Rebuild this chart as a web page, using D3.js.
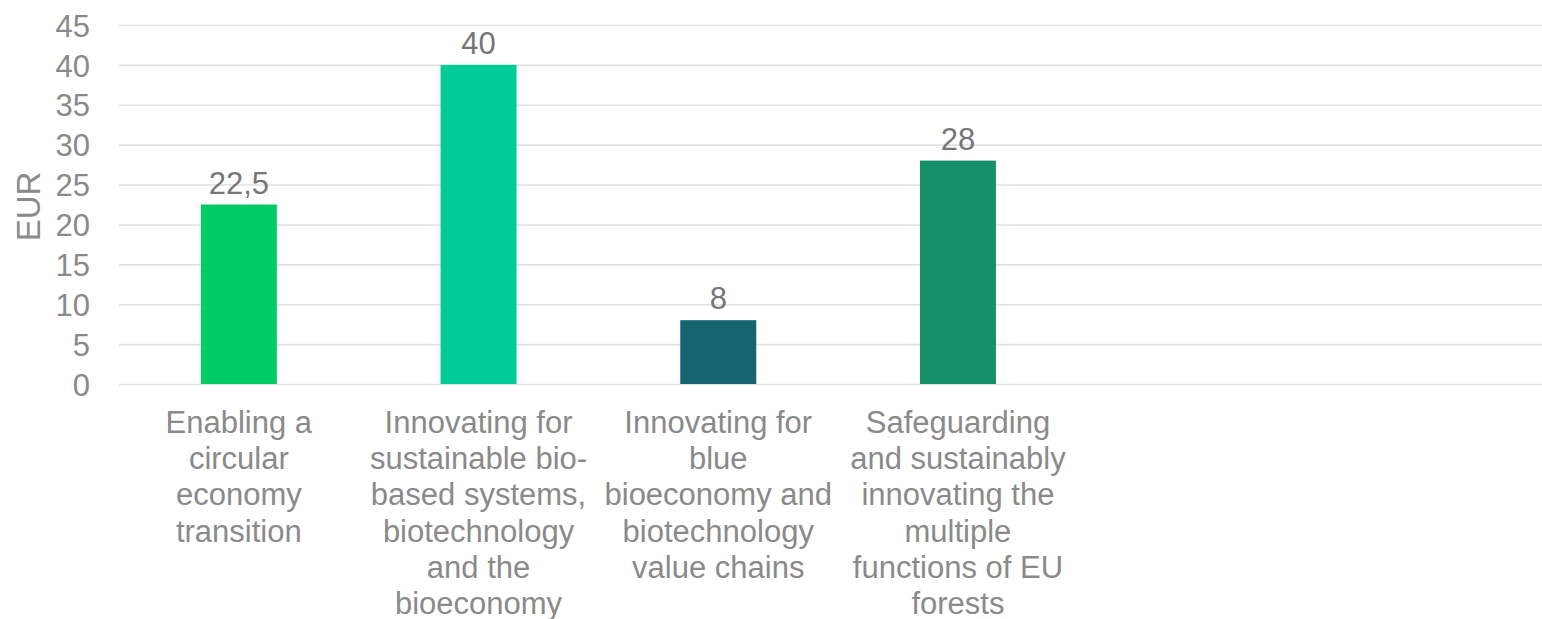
<!DOCTYPE html>
<html>
<head>
<meta charset="utf-8">
<script src="https://cdn.jsdelivr.net/npm/d3@7"></script>
<style>
  html, body { margin: 0; padding: 0; background: #fff; }
  svg { display: block; font-family: "Liberation Sans", Arial, sans-serif; }
</style>
</head>
<body>
<svg id="chart" width="1542" height="619"></svg>
<script>
// ---- data ----
const categories = [
  "Enabling a\ncircular\neconomy\ntransition",
  "Innovating for\nsustainable bio-\nbased systems,\nbiotechnology\nand the\nbioeconomy",
  "Innovating for\nblue\nbioeconomy and\nbiotechnology\nvalue chains",
  "Safeguarding\nand sustainably\ninnovating the\nmultiple\nfunctions of EU\nforests"
];
const values = [22.5, 40, 8, 28];
const barColors = ["#00cc66", "#00cc99", "#156570", "#159068"];
const yTicks = [0, 5, 10, 15, 20, 25, 30, 35, 40, 45];
const yLabel = "EUR";
const slotCount = 6; // category slots on the axis (last two empty)

// ---- layout ----
const plot = { left: 119, right: 1542, top: 25, bottom: 384 };
const stepW = 239.7;

const svg = d3.select("#chart");
const locale = d3.formatLocale({ decimal: ",", thousands: ".", grouping: [3], currency: ["", " €"] });
const fmt = locale.format(".1~f");

const y = d3.scaleLinear().domain([0, 45]).range([plot.bottom, plot.top]);
const x = d3.scaleBand()
  .domain(d3.range(slotCount))
  .range([plot.left, plot.left + slotCount * stepW])
  .paddingInner(0.683)
  .paddingOuter(0.3415);

// gridlines
const grid = svg.append("g")
  .attr("transform", `translate(${plot.left},0)`)
  .call(d3.axisLeft(y).tickValues(yTicks).tickSize(-(plot.right - plot.left)).tickFormat(""));
grid.select(".domain").remove();
grid.selectAll(".tick line").attr("stroke", "#e1e1e1").attr("stroke-width", 1.6);

// y tick labels
const yAxis = svg.append("g")
  .attr("transform", `translate(${plot.left},0)`)
  .call(d3.axisLeft(y).tickValues(yTicks).tickSize(0).tickPadding(29).tickFormat(d => fmt(d)));
yAxis.select(".domain").remove();
yAxis.selectAll(".tick text")
  .attr("fill", "#8a8a8a")
  .style("font-size", "31px")
  .style("font-family", "'Liberation Sans', Arial, sans-serif")
  .attr("dy", "0.36em");

// y axis title
svg.append("text")
  .attr("transform", `translate(40,${(plot.top + plot.bottom) / 2 + 2}) rotate(-90)`)
  .attr("text-anchor", "middle")
  .attr("fill", "#8a8a8a")
  .style("font-size", "33px")
  .text(yLabel);

// bars
svg.append("g").selectAll("rect")
  .data(values)
  .join("rect")
  .attr("x", (d, i) => x(i))
  .attr("width", x.bandwidth())
  .attr("y", d => y(d))
  .attr("height", d => y(0) - y(d))
  .attr("fill", (d, i) => barColors[i]);

// value labels
svg.append("g").selectAll("text")
  .data(values)
  .join("text")
  .attr("x", (d, i) => x(i) + x.bandwidth() / 2)
  .attr("y", d => y(d) - 11)
  .attr("text-anchor", "middle")
  .attr("fill", "#767676")
  .style("font-size", "31px")
  .text(d => fmt(d));

// category labels
const catG = svg.append("g");
categories.forEach((c, i) => {
  const t = catG.append("text")
    .attr("x", x(i) + x.bandwidth() / 2)
    .attr("y", 433)
    .attr("text-anchor", "middle")
    .attr("fill", "#8a8a8a")
    .style("font-size", "31px");
  c.split("\n").forEach((line, j) => {
    t.append("tspan")
      .attr("x", x(i) + x.bandwidth() / 2)
      .attr("dy", j === 0 ? 0 : 36.2)
      .text(line);
  });
});
</script>
</body>
</html>
